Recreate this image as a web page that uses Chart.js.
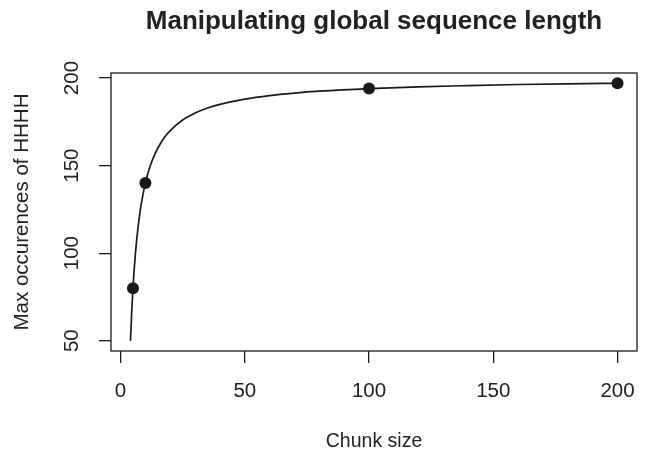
<!DOCTYPE html>
<html>
<head>
<meta charset="utf-8">
<title>Manipulating global sequence length</title>
<script src="https://cdn.jsdelivr.net/npm/chart.js@4.4.0/dist/chart.umd.min.js"></script>
<style>
  html, body { margin: 0; padding: 0; background: #fff; }
  #chart { display: block; }
</style>
</head>
<body>
<canvas id="chart" width="646" height="454"></canvas>
<script>
// Observed points
const chunkSizes = [5, 10, 100, 200];
const maxOccurrences = [80, 140, 194, 197];

// Fitted curve
const curveX = [4, 4.5, 5, 6, 7, 8, 9, 10, 12, 14, 16, 18, 20, 25, 30, 35, 40, 50, 60, 70, 80, 100, 120, 140, 160, 180, 200];
const curveY = [50, 66.7, 80, 100, 114.3, 125, 133.3, 140, 150, 157.1, 162.5, 166.7, 170, 176, 180, 182.9, 185, 188, 190, 191.4, 192.5, 194, 195, 195.7, 196.3, 196.7, 197];

// Axis ticks
const xTicks = [0, 50, 100, 150, 200];
const yTicks = [50, 100, 150, 200];

const ink = '#1a1a1a';
const textColor = '#222';
const fontFamily = '"Liberation Sans", Arial, Helvetica, sans-serif';

// R-style box round the plot region
const boxPlugin = {
    id: 'plotBox',
    afterDatasetsDraw(chart) {
        const { ctx, chartArea: a } = chart;
        ctx.save();
        ctx.strokeStyle = ink;
        ctx.lineWidth = 1.3;
        ctx.strokeRect(a.left, a.top, a.right - a.left, a.bottom - a.top);
        ctx.restore();
    }
};

const toPoints = (xs, ys) => xs.map((x, i) => ({ x: x, y: ys[i] }));

new Chart(document.getElementById('chart').getContext('2d'), {
    type: 'scatter',
    data: {
        datasets: [
            {
                label: 'Observed',
                data: toPoints(chunkSizes, maxOccurrences),
                pointRadius: 6,
                pointBackgroundColor: ink,
                pointBorderWidth: 0,
                showLine: false
            },
            {
                label: 'Curve',
                data: toPoints(curveX, curveY),
                showLine: true,
                borderColor: ink,
                borderWidth: 1.7,
                pointRadius: 0,
                cubicInterpolationMode: 'monotone',
                clip: false
            }
        ]
    },
    options: {
        responsive: false,
        animation: false,
        events: [],
        layout: { padding: { left: 0, right: 9, top: 0, bottom: 0 } },
        plugins: {
            legend: { display: false },
            tooltip: { enabled: false },
            title: {
                display: true,
                text: 'Manipulating global sequence length',
                fullSize: false,
                color: textColor,
                font: { family: fontFamily, size: 26, weight: 'bold', lineHeight: 1.2 },
                padding: { top: 6, bottom: 35.8 }
            }
        },
        scales: {
            x: {
                type: 'linear',
                min: -3.84,
                max: 207.84,
                afterBuildTicks: s => { s.ticks = xTicks.map(v => ({ value: v })); },
                afterFit: s => { s.height = 103; s.paddingLeft = 0; s.paddingRight = 0; },
                grid: { display: true, drawOnChartArea: false, drawTicks: true, tickLength: 12, color: ink, lineWidth: 1.3 },
                border: { display: false },
                ticks: { color: textColor, font: { family: fontFamily, size: 20.5 }, padding: 16, maxRotation: 0 },
                title: {
                    display: true,
                    text: 'Chunk size',
                    color: textColor,
                    font: { family: fontFamily, size: 19.5, lineHeight: 1.2 },
                    padding: { top: 0, bottom: 1 }
                }
            },
            y: {
                type: 'linear',
                min: 44.12,
                max: 202.88,
                afterBuildTicks: s => { s.ticks = yTicks.map(v => ({ value: v })); },
                afterFit: s => { s.width = 111; s.paddingTop = 0; s.paddingBottom = 0; },
                grid: { display: true, drawOnChartArea: false, drawTicks: true, tickLength: 12, color: ink, lineWidth: 1.3 },
                border: { display: false },
                ticks: {
                    color: textColor,
                    font: { family: fontFamily, size: 20.5 },
                    minRotation: 90,
                    maxRotation: 90,
                    crossAlign: 'center',
                    padding: 10
                },
                title: {
                    display: true,
                    text: 'Max occurences of HHHH',
                    color: textColor,
                    font: { family: fontFamily, size: 20.5, lineHeight: 1.2 },
                    padding: { top: 10, bottom: 0 }
                }
            }
        }
    },
    plugins: [boxPlugin]
});
</script>
</body>
</html>
